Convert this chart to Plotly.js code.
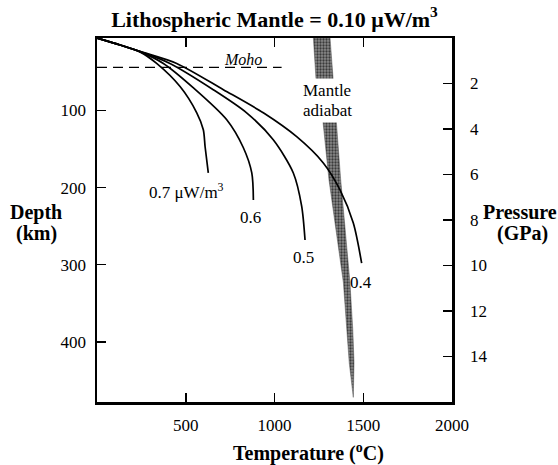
<!DOCTYPE html>
<html>
<head>
<meta charset="utf-8">
<script src="https://cdn.plot.ly/plotly-3.0.1.min.js"></script>
<style>html,body{margin:0;padding:0;background:#fff;}#chart{width:558px;height:465px;}</style>
</head>
<body>
<div id="chart"></div>
<script>
// Geotherms: temperature (°C) vs depth (km)
var geo07Depth = [6, 15, 24, 39, 69, 103, 125, 147, 181];
var geo07Temp  = [0, 130, 242, 336, 468, 562, 599, 609, 627];

var geo06Depth = [6, 15, 24, 39, 70, 112, 148, 181, 216];
var geo06Temp  = [0, 130, 245, 374, 540, 731, 824, 872, 881];

var geo05Depth = [6, 15, 24, 39, 73, 103, 138, 181, 224, 268];
var geo05Temp  = [0, 130, 248, 411, 655, 843, 993, 1106, 1153, 1172];

var geo04Depth = [6, 15, 24, 39, 73, 103, 134, 168, 203, 246, 298];
var geo04Temp  = [0, 130, 250, 449, 712, 937, 1125, 1275, 1369, 1444, 1491];

// Mantle adiabat band
var adiabatDepth = [6, 60, 112, 190, 323, 384, 427, 472];
var adiabatTmin  = [1219, 1234, 1272, 1307, 1388, 1407, 1421, 1444];
var adiabatTmax  = [1313, 1328, 1347, 1373, 1425, 1441, 1448, 1444];

// Moho
var mohoTemp  = [0, 1040];
var mohoDepth = [44, 44];

// Ticks
var tempTicks = [500, 1000, 1500, 2000];
var depthTicks = [100, 200, 300, 400];
var pressureTicks = [2, 4, 6, 8, 10, 12, 14];

var serif = 'Liberation Serif, Times New Roman, serif';

var bandX = adiabatTmin.concat(adiabatTmax.slice().reverse());
var bandY = adiabatDepth.concat(adiabatDepth.slice().reverse());

function curve(t, d) {
  return {x: t, y: d, type: 'scatter', mode: 'lines',
    line: {color: '#000', width: 1.7, shape: 'spline', smoothing: 0.8},
    hoverinfo: 'skip', showlegend: false};
}

var traces = [
  {x: bandX, y: bandY, type: 'scatter', mode: 'lines', fill: 'toself',
   fillcolor: '#6a6a6a',
   fillpattern: {shape: '.', fgcolor: '#3a3a3a', bgcolor: '#8a8a8a', size: 3, solidity: 0.45},
   line: {color: '#555', width: 0.5}, hoverinfo: 'skip', showlegend: false},
  {x: mohoTemp, y: mohoDepth, type: 'scatter', mode: 'lines',
   line: {color: '#000', width: 1.3, dash: '10px,6px'}, hoverinfo: 'skip', showlegend: false},
  curve(geo07Temp, geo07Depth),
  curve(geo06Temp, geo06Depth),
  curve(geo05Temp, geo05Depth),
  curve(geo04Temp, geo04Depth),
  {x: [null], y: [null], yaxis: 'y2', type: 'scatter', mode: 'lines', hoverinfo: 'skip', showlegend: false}
];

function lab(text, x, y, opts) {
  var a = {text: text, x: x, y: y, xref: 'x', yref: 'y', showarrow: false,
    font: {family: serif, size: 17, color: '#000'}, xanchor: 'center', yanchor: 'middle'};
  for (var k in (opts || {})) a[k] = opts[k];
  return a;
}
function plab(text, px, py, size) {
  return {text: text, x: (px - 97) / 355, y: (402 - py) / 364, xref: 'paper', yref: 'paper',
    showarrow: false, font: {family: serif, size: size, color: '#000'},
    xanchor: 'center', yanchor: 'middle'};
}

var layout = {
  width: 558, height: 465,
  margin: {l: 97, r: 106, t: 38, b: 63},
  paper_bgcolor: '#fff', plot_bgcolor: '#fff',
  showlegend: false,
  title: {text: '<b>Lithospheric Mantle = 0.10 μW/m<sup>3</sup></b>',
    font: {family: serif, size: 22, color: '#000'},
    x: 0.5, xref: 'paper', y: 1 - 19 / 465, yref: 'container', yanchor: 'middle'},
  xaxis: {range: [0, 2000], tickvals: tempTicks, ticks: 'inside', ticklen: 9, tickwidth: 1.5,
    tickcolor: '#000', showline: true, linecolor: '#000', linewidth: 2.5, mirror: 'ticks',
    showgrid: false, zeroline: false, ticklabelstandoff: 6,
    tickfont: {family: serif, size: 17, color: '#000'}},
  yaxis: {range: [478, 6], tickvals: depthTicks, ticks: 'inside', ticklen: 9, tickwidth: 1.5,
    tickcolor: '#000', showline: true, linecolor: '#000', linewidth: 2.5, mirror: true,
    showgrid: false, zeroline: false, ticklabelstandoff: 5,
    tickfont: {family: serif, size: 17, color: '#000'}},
  yaxis2: {range: [16, 0], overlaying: 'y', side: 'right', tickvals: pressureTicks,
    ticks: 'inside', ticklen: 9, tickwidth: 1.5, tickcolor: '#000', showline: true,
    linecolor: '#000', linewidth: 2.5, showgrid: false, zeroline: false, ticklabelstandoff: 12,
    tickfont: {family: serif, size: 17, color: '#000'}},
  annotations: [
    lab('<i>Moho</i>', 824, 34, {font: {family: serif, size: 16, color: '#000'}}),
    lab('Mantle', 1296, 74, {bgcolor: '#fff', borderpad: 2}),
    lab('adiabat', 1300, 100, {bgcolor: '#fff', borderpad: 2}),
    lab('0.7 μW/m<sup>3</sup>', 507, 204),
    lab('0.6', 866, 239),
    lab('0.5', 1162, 291),
    lab('0.4', 1487, 323),
    plab('<b>Temperature (<sup>o</sup>C)</b>', 308, 452, 20),
    plab('<b>Depth</b>', 36, 212, 20),
    plab('<b>(km)</b>', 36, 233, 20),
    plab('<b>Pressure</b>', 520, 212, 20),
    plab('<b>(GPa)</b>', 522, 233, 20)
  ]
};

Plotly.newPlot('chart', traces, layout, {displayModeBar: false, staticPlot: true});
</script>
</body>
</html>
